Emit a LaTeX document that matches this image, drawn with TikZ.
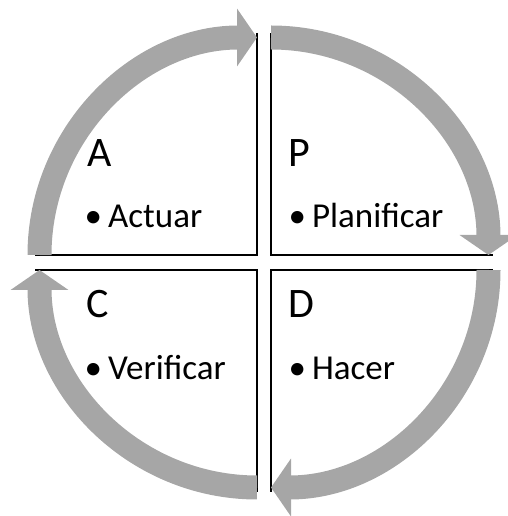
\documentclass[tikz,border=0pt]{standalone}
\usepackage{fontspec}
\setmainfont{Carlito}
\usepackage{tikz}
\usetikzlibrary{arrows.meta}
\definecolor{flechagris}{RGB}{166,166,166}

\begin{document}
\begin{tikzpicture}[x=1pt, y=1pt,
    borde/.style={line width=1.5pt},
    flecha/.style={draw=flechagris, line width=24pt, -{Triangle[width=57pt,length=20pt]}},
    letra/.style={anchor=base west, inner sep=0pt, font=\fontsize{42}{48}\selectfont},
    punto/.style={anchor=base west, inner sep=0pt, font=\fontsize{35}{40}\selectfont}]
    % Marco del dibujo
    \useasboundingbox (0,0) rectangle (507,516);

    % Esquinas interiores de los cuatro cuadrantes
    \coordinate (esqA) at (257,261);
    \coordinate (esqP) at (271,261);
    \coordinate (esqD) at (271,246);
    \coordinate (esqC) at (257,246);

    % Bordes interiores de cada cuadrante
    \draw[borde] (esqA) ++(0,222) -- (esqA) -- ++(-222,0);
    \draw[borde] (esqP) ++(0,222) -- (esqP) -- ++(222,0);
    \draw[borde] (esqD) ++(0,-222) -- (esqD) -- ++(222,0);
    \draw[borde] (esqC) ++(0,-222) -- (esqC) -- ++(-222,0);

    % Flechas del ciclo, en sentido horario
    \draw[flecha] ([xshift=-217.5pt]esqA) arc[start angle=180, end angle=90, radius=217.5];
    \draw[flecha] ([yshift=217.5pt]esqP) arc[start angle=90, end angle=0, radius=217.5];
    \draw[flecha] ([xshift=217.5pt]esqD) arc[start angle=0, end angle=-90, radius=217.5];
    \draw[flecha] ([yshift=-217.5pt]esqC) arc[start angle=270, end angle=180, radius=217.5];

    % Letras y textos de cada cuadrante
    \node[letra] (A) at (87,349) {A};
    \node[punto] (actuar) at (84.5,288) {•\kern6pt Actuar};
    \node[letra] (P) at (288,349) {P};
    \node[punto] (planificar) at (288.5,288) {•\kern6pt Planificar};
    \node[letra] (C) at (86,198) {C};
    \node[punto] (verificar) at (84.5,136) {•\kern6pt Verificar};
    \node[letra] (D) at (288,198) {D};
    \node[punto] (hacer) at (288.5,136) {•\kern6pt Hacer};
\end{tikzpicture}
\end{document}
